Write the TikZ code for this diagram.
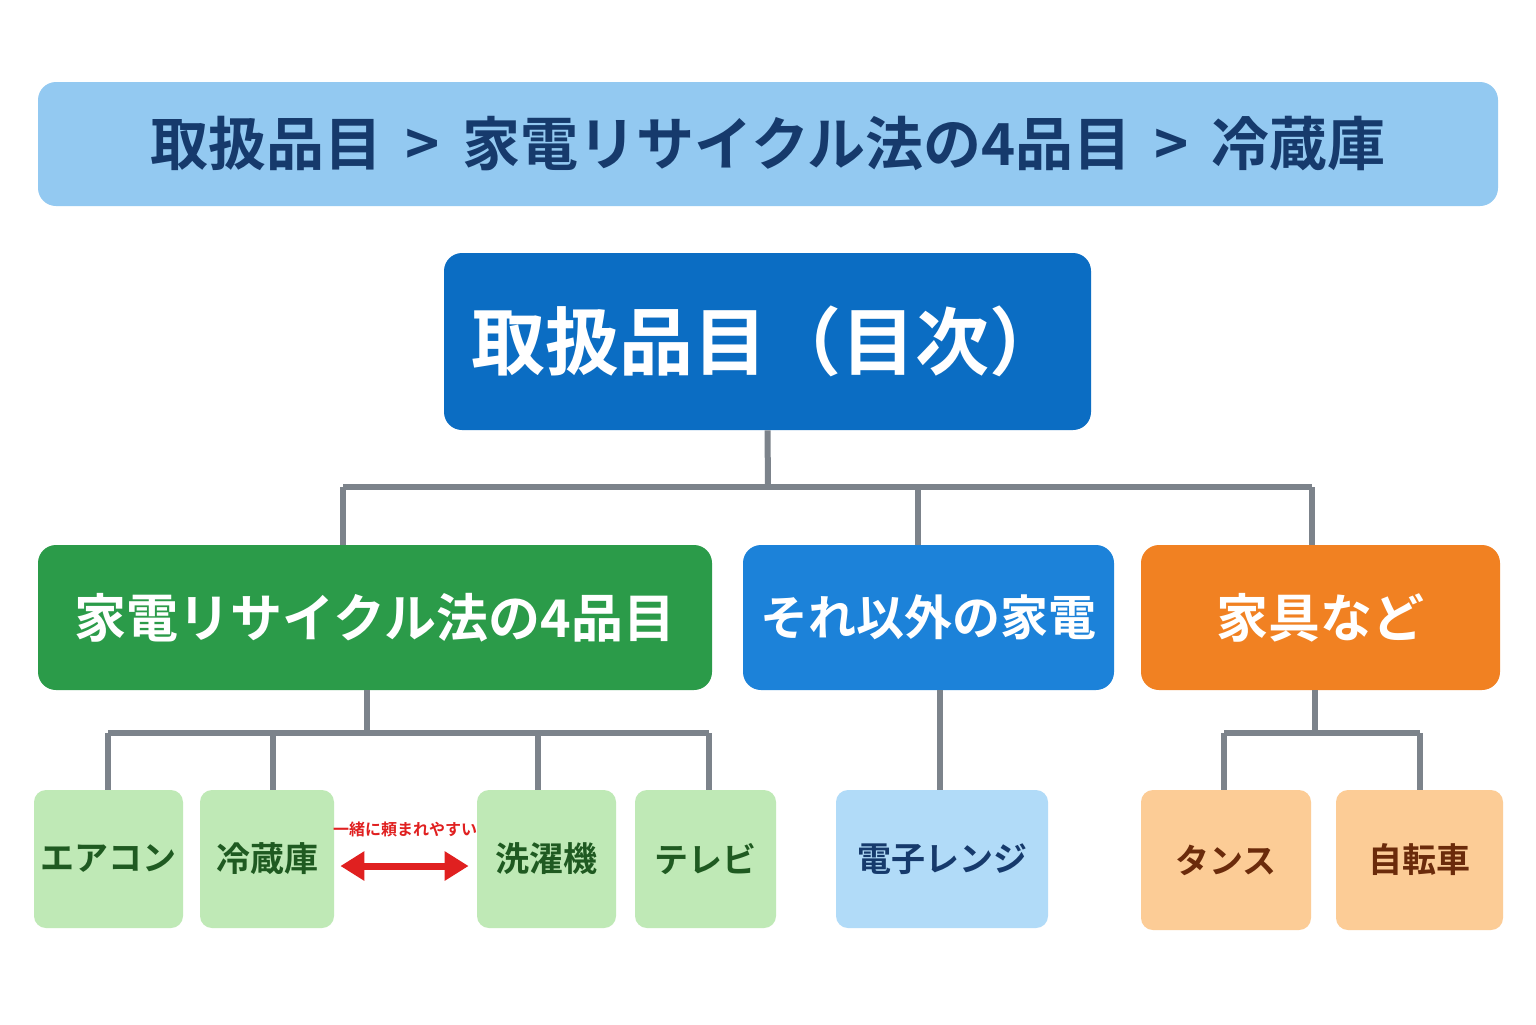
\documentclass[tikz,border=0pt]{standalone}
\usepackage{fontspec}
\newfontfamily\cjk{Noto Sans CJK JP}[BoldFont={Noto Sans CJK JP Bold}]
\usetikzlibrary{arrows.meta}
\definecolor{barbg}{HTML}{93C9F1}
\definecolor{navy}{HTML}{163A6C}
\definecolor{rootc}{HTML}{0B6DC3}
\definecolor{greenc}{HTML}{2B9B49}
\definecolor{bluec}{HTML}{1C82D9}
\definecolor{orangec}{HTML}{F18122}
\definecolor{lgreen}{HTML}{BFE9B6}
\definecolor{dgreen}{HTML}{1F5A21}
\definecolor{lblue}{HTML}{B1DBF8}
\definecolor{lorange}{HTML}{FCCC96}
\definecolor{brown}{HTML}{6B2B0B}
\definecolor{linec}{HTML}{7C838B}
\definecolor{redc}{HTML}{E02020}
\begin{document}
\begin{tikzpicture}[x=0.5pt,y=-0.5pt,
  box/.style={rounded corners=9pt,inner sep=0pt,font=\cjk\bfseries},
  conn/.style={draw=linec,line width=3pt},
  leafg/.style={box,fill=lgreen,text=dgreen,rounded corners=6pt,font=\cjk\bfseries\fontsize{17}{20}\selectfont},
  leafb/.style={leafg,fill=lblue,text=navy},
  leafo/.style={leafg,fill=lorange,text=brown}]
\useasboundingbox[fill=white] (0,0) rectangle (1536,1024);
\node[box,fill=barbg,text=navy,minimum width=730pt,minimum height=62pt,font=\cjk\bfseries\fontsize{29}{34}\selectfont] (bar) at (768,144) {取扱品目 \,>\, 家電リサイクル法の4品目 \,>\, 冷蔵庫};
\node[box,fill=rootc,text=white,minimum width=323.5pt,minimum height=88.5pt,font=\cjk\bfseries\fontsize{37}{42}\selectfont] (root) at (767.5,341.5) {取扱品目（目次）};
\node[box,fill=greenc,text=white,minimum width=337pt,minimum height=72.5pt,font=\cjk\bfseries\fontsize{26}{30}\selectfont] (green) at (375,617.5) {家電リサイクル法の4品目};
\node[box,fill=bluec,text=white,minimum width=185.5pt,minimum height=72.5pt,font=\cjk\bfseries\fontsize{24}{28}\selectfont] (blue) at (928.5,617.5) {それ以外の家電};
\node[box,fill=orangec,text=white,minimum width=179.5pt,minimum height=72.5pt,font=\cjk\bfseries\fontsize{26}{30}\selectfont] (orange) at (1320.5,617.5) {家具など};
\node[leafg,minimum width=74.5pt,minimum height=69pt] (ac) at (108.5,859) {エアコン};
\node[leafg,minimum width=67pt,minimum height=69pt] (fr) at (267,859) {冷蔵庫};
\node[leafg,minimum width=69.5pt,minimum height=69pt] (wm) at (546.5,859) {洗濯機};
\node[leafg,minimum width=70.5pt,minimum height=69pt] (tv) at (705.5,859) {テレビ};
\node[leafb,minimum width=106pt,minimum height=69pt] (mw) at (942,859) {電子レンジ};
\node[leafo,minimum width=85pt,minimum height=70pt] (ta) at (1226,860) {タンス};
\node[leafo,minimum width=83.5pt,minimum height=70pt] (bi) at (1419.5,860) {自転車};
% connectors
\coordinate (j0) at (768,487);
\draw[conn] (root.south) -- (j0);
\draw[conn] (343,487) -- (1312,487);
\draw[conn] (343,487) -- (343,545);
\draw[conn] (918,487) -- (918,545);
\draw[conn] (1312,487) -- (1312,545);
\coordinate (j1) at (367,733);
\draw[conn] (367,690) -- (j1);
\draw[conn] (108,733) -- (709,733);
\foreach \x in {108,273,538,709} \draw[conn] (\x,733) -- (\x,790);
\draw[conn] (940,690) -- (940,790);
\coordinate (j2) at (1315,733);
\draw[conn] (1315,690) -- (j2);
\draw[conn] (1224,733) -- (1420,733);
\draw[conn] (1224,733) -- (1224,790);
\draw[conn] (1420,733) -- (1420,790);
% red arrow
\draw[redc,line width=3.5pt,{Triangle[length=12pt,width=14pt]}-{Triangle[length=12pt,width=14pt]}] (fr.east)+(6,7) -- ([xshift=-4pt,yshift=-3.5pt]wm.west);
\node[text=redc,font=\cjk\bfseries\fontsize{8}{9}\selectfont] (lbl) at (405,829) {一緒に頼まれやすい};
\end{tikzpicture}
\end{document}
